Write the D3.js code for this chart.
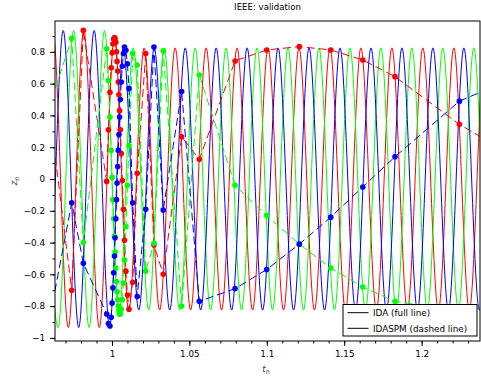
<!DOCTYPE html>
<html>
<head>
<meta charset="utf-8">
<script src="https://cdn.jsdelivr.net/npm/d3@7"></script>
<style>
  body { margin: 0; background: #fff; }
  text { font-family: "DejaVu Sans", sans-serif; fill: #000; }
</style>
</head>
<body>
<svg id="chart" width="481" height="381"></svg>
<script>
// tick labels
const xTicks = [1, 1.05, 1.1, 1.15, 1.2];
const yTicks = [-1, -0.8, -0.6, -0.4, -0.2, 0, 0.2, 0.4, 0.6, 0.8];

// IDA (full line): extrema of each phase
const idaRedT = [0.9518, 0.9618, 0.9718, 0.9818, 0.9918, 1.0016, 1.0108, 1.0208, 1.0308, 1.0408, 1.0508, 1.0608, 1.0708, 1.0808, 1.0908, 1.1008, 1.1108, 1.1208, 1.1308, 1.1408, 1.1508, 1.1608, 1.1708, 1.1808, 1.1908, 1.2008, 1.2108, 1.2208, 1.2308, 1.2408, 1.2508];
const idaRedZ = [-0.935, 0.935, -0.935, 0.935, -0.935, 0.89, -0.83, 0.825, -0.825, 0.825, -0.825, 0.825, -0.825, 0.825, -0.825, 0.825, -0.825, 0.825, -0.825, 0.825, -0.825, 0.825, -0.825, 0.825, -0.825, 0.825, -0.825, 0.825, -0.825, 0.825, -0.825];
const idaGreenT = [0.9552, 0.9652, 0.9752, 0.9852, 0.9952, 1.0045, 1.0137, 1.0237, 1.0337, 1.0437, 1.0537, 1.0637, 1.0737, 1.0837, 1.0937, 1.1037, 1.1137, 1.1237, 1.1337, 1.1437, 1.1537, 1.1637, 1.1737, 1.1837, 1.1937, 1.2037, 1.2137, 1.2237, 1.2337, 1.2437, 1.2537];
const idaGreenZ = [0.935, -0.935, 0.935, -0.935, 0.935, -0.85, 0.825, -0.825, 0.825, -0.825, 0.825, -0.825, 0.825, -0.825, 0.825, -0.825, 0.825, -0.825, 0.825, -0.825, 0.825, -0.825, 0.825, -0.825, 0.825, -0.825, 0.825, -0.825, 0.825, -0.825, 0.825];
const idaBlueT = [0.9485, 0.9585, 0.9685, 0.9785, 0.9885, 0.9985, 1.0073, 1.0173, 1.0273, 1.0373, 1.0473, 1.0573, 1.0673, 1.0773, 1.0873, 1.0973, 1.1073, 1.1173, 1.1273, 1.1373, 1.1473, 1.1573, 1.1673, 1.1773, 1.1873, 1.1973, 1.2073, 1.2173, 1.2273, 1.2373, 1.2473];
const idaBlueZ = [0.935, -0.935, 0.935, -0.935, 0.935, -0.93, 0.825, -0.825, 0.825, -0.825, 0.825, -0.825, 0.825, -0.825, 0.825, -0.825, 0.825, -0.825, 0.825, -0.825, 0.825, -0.825, 0.825, -0.825, 0.825, -0.825, 0.825, -0.825, 0.825, -0.825, 0.825];

// IDASPM (dashed line): solver steps
const spmT = [0.9587, 0.9740, 0.9815, 0.9966, 0.9977, 0.9987, 0.9995, 1.0001, 1.0006, 1.0011, 1.0016, 1.0020, 1.0025, 1.0029, 1.0033, 1.0037, 1.0041, 1.0045, 1.0049, 1.0054, 1.0060, 1.0067, 1.0074, 1.0081, 1.0090, 1.0100, 1.0110, 1.0134, 1.0163, 1.0218, 1.0271, 1.0331, 1.0450, 1.0564, 1.0795, 1.0999, 1.1210, 1.1413, 1.1620, 1.1828, 1.2244, 1.2655];
const spmRed = [0.51, -0.70, 0.935, -0.015, 0.31, 0.545, 0.70, 0.795, 0.85, 0.88, 0.89, 0.884, 0.86, 0.80, 0.74, 0.68, 0.61, 0.53, 0.43, 0.31, 0.16, -0.01, -0.19, -0.385, -0.58, -0.73, -0.82, -0.65, 0.036, 0.79, -0.415, -0.60, 0.266, 0.124, 0.743, 0.812, 0.833, 0.812, 0.749, 0.644, 0.344, 0.11];
const spmGreen = [0.43, 0.885, -0.40, 0.82, 0.62, 0.39, 0.18, 0.01, -0.13, -0.25, -0.36, -0.46, -0.56, -0.645, -0.71, -0.76, -0.80, -0.83, -0.85, -0.85, -0.82, -0.76, -0.655, -0.51, -0.30, -0.04, 0.21, 0.79, 0.717, -0.58, -0.405, 0.807, -0.80, 0.654, -0.04, -0.23, -0.41, -0.56, -0.68, -0.77, -0.83, -0.77];
const spmBlue = [-0.93, -0.15, -0.53, -0.85, -0.91, -0.925, -0.87, -0.78, -0.685, -0.59, -0.485, -0.37, -0.25, -0.13, -0.025, 0.078, 0.18, 0.28, 0.39, 0.50, 0.61, 0.71, 0.79, 0.83, 0.81, 0.725, 0.57, -0.15, -0.74, -0.19, 0.83, -0.195, 0.55, -0.77, -0.69, -0.57, -0.41, -0.24, -0.05, 0.14, 0.49, 0.66];

const legendLabels = ['IDA (full line)', 'IDASPM (dashed line)'];

const svg = d3.select('#chart');
const m = { left: 55, right: 480, top: 21, bottom: 341 };

const x = d3.scaleLinear().domain([0.9632, 1.2377]).range([m.left, m.right]);
const y = d3.scaleLinear().domain([-1.0195, 0.9943]).range([m.bottom, m.top]);

svg.append('clipPath').attr('id', 'plot')
  .append('rect')
  .attr('x', m.left).attr('y', m.top)
  .attr('width', m.right - m.left).attr('height', m.bottom - m.top);

const plot = svg.append('g').attr('clip-path', 'url(#plot)');

const zip = (ts, zs) => ts.map((t, i) => [t, zs[i]]);
const fullLine = d3.line().x(d => x(d[0])).y(d => y(d[1])).curve(d3.curveMonotoneX);
const dashLine = d3.line().x(d => x(d[0])).y(d => y(d[1]));

const series = [
  { color: '#ff0000', ida: zip(idaRedT, idaRedZ), spm: zip(spmT, spmRed) },
  { color: '#00ff00', ida: zip(idaGreenT, idaGreenZ), spm: zip(spmT, spmGreen) },
  { color: '#0000ff', ida: zip(idaBlueT, idaBlueZ), spm: zip(spmT, spmBlue) }
];

series.forEach(s => {
  plot.append('path')
    .attr('d', fullLine(s.ida))
    .attr('fill', 'none')
    .attr('stroke', s.color)
    .attr('stroke-width', 1);
});

series.forEach(s => {
  plot.append('path')
    .attr('d', dashLine(s.spm))
    .attr('fill', 'none')
    .attr('stroke', s.color)
    .attr('stroke-width', 1)
    .attr('stroke-dasharray', '8,4');
});

series.forEach(s => {
  plot.selectAll(null)
    .data(s.spm)
    .enter()
    .append('circle')
    .attr('cx', d => x(d[0]))
    .attr('cy', d => y(d[1]))
    .attr('r', 2.8)
    .attr('fill', s.color);
});

// axes
const fmt = d3.format('~g');
svg.append('g').attr('transform', `translate(0,${m.bottom})`)
  .call(d3.axisBottom(x).tickValues(x.ticks(30)).tickSize(2.5).tickFormat(''));
svg.append('g').attr('transform', `translate(0,${m.bottom})`)
  .call(d3.axisBottom(x).tickValues(xTicks).tickSize(5).tickPadding(5).tickFormat(fmt));

svg.append('g').attr('transform', `translate(${m.left},0)`)
  .call(d3.axisLeft(y).tickValues(y.ticks(20)).tickSize(2.5).tickFormat(''));
svg.append('g').attr('transform', `translate(${m.left},0)`)
  .call(d3.axisLeft(y).tickValues(yTicks).tickSize(5).tickPadding(5).tickFormat(fmt));

svg.selectAll('.domain').remove();
svg.selectAll('.tick text').style('font-size', '8.8px').style('font-family', '"DejaVu Sans", sans-serif');

svg.append('rect')
  .attr('x', m.left).attr('y', m.top)
  .attr('width', m.right - m.left).attr('height', m.bottom - m.top)
  .attr('fill', 'none').attr('stroke', '#000').attr('stroke-width', 1);

// title and axis labels
svg.append('text')
  .attr('x', (m.left + m.right) / 2).attr('y', 10)
  .attr('text-anchor', 'middle')
  .style('font-size', '8.6px')
  .text('IEEE: validation');

const xl = svg.append('text')
  .attr('x', 266).attr('y', 372)
  .attr('text-anchor', 'middle')
  .style('font-size', '8.6px').style('fill', '#444');
xl.append('tspan').style('font-style', 'italic').text('t');
xl.append('tspan').attr('dy', 2).style('font-size', '6.5px').text('n');

const yl = svg.append('text')
  .attr('transform', 'translate(17,181) rotate(-90)')
  .attr('text-anchor', 'middle')
  .style('font-size', '8.6px').style('fill', '#444');
yl.append('tspan').style('font-style', 'italic').text('z');
yl.append('tspan').attr('dy', 2).style('font-size', '6.5px').text('n');

// legend
const lg = svg.append('g');
lg.append('rect')
  .attr('x', 343).attr('y', 304.5)
  .attr('width', 134).attr('height', 31.5)
  .attr('fill', '#fff').attr('stroke', '#000').attr('stroke-width', 1);
legendLabels.forEach((lab, i) => {
  const ly = 312.7 + i * 15.6;
  lg.append('line')
    .attr('x1', 347.5).attr('x2', 368.5)
    .attr('y1', ly).attr('y2', ly)
    .attr('stroke', '#000').attr('stroke-width', 1);
  lg.append('text')
    .attr('x', 373).attr('y', ly + 3.2)
    .style('font-size', '8.8px')
    .text(lab);
});
</script>
</body>
</html>
